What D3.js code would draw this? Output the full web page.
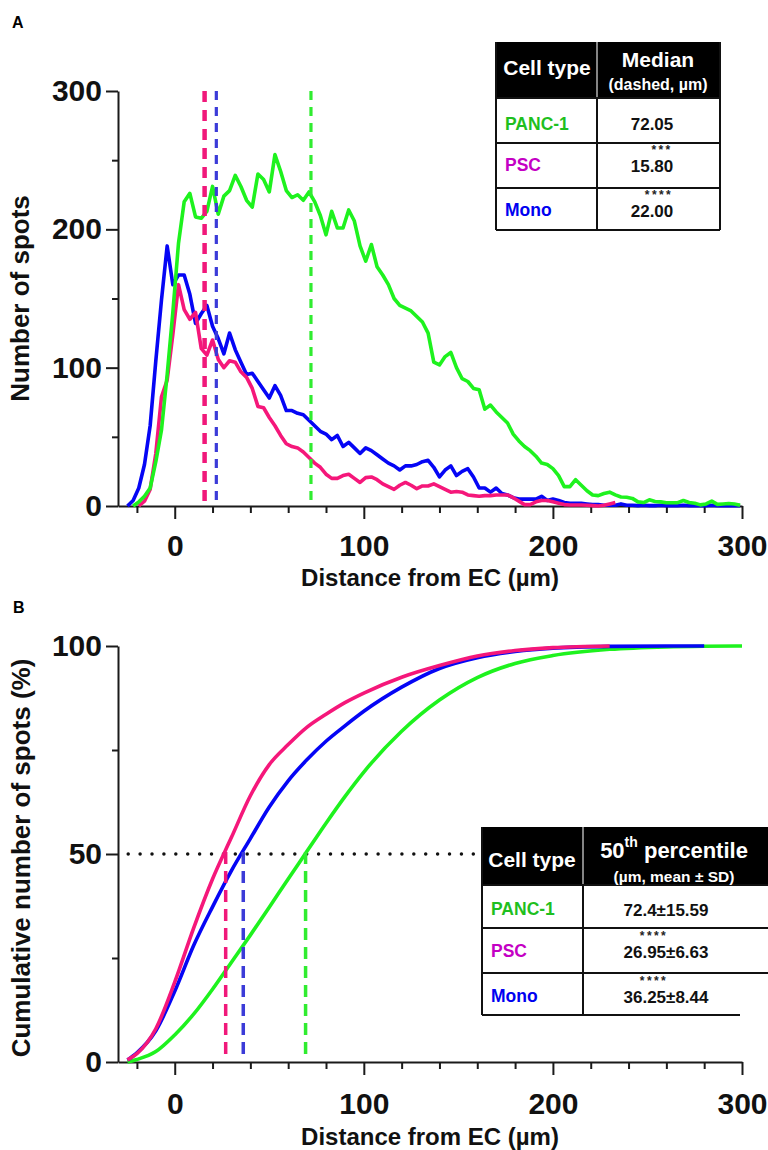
<!DOCTYPE html>
<html>
<head>
<meta charset="utf-8">
<script src="https://cdn.jsdelivr.net/npm/d3@7"></script>
<style>
  body { margin: 0; background: #fff; }
  svg { display: block; }
  text { font-family: "Liberation Sans", Arial, sans-serif; font-weight: bold; }
</style>
</head>
<body>
<svg id="chart" width="768" height="1150"></svg>
<script>
// cell types, in table order
const cellTypes = ['PANC-1', 'PSC', 'Mono'];
const lineColors = ['#1ef21e', '#f5177a', '#0505f5'];
const dashColors = ['#30ec30', '#f0187a', '#3b3bd8'];
const labelColors = ['#1fbf1f', '#c400c4', '#0000f0'];

// panel A: histogram bins (µm) and counts
const bins = [
  -25, -22, -19, -16, -13, -10, -7, -4, -1, 2,
  5, 8, 11, 14, 17, 20, 23, 26, 29, 32,
  35, 38, 41, 44, 47, 50, 53, 56, 59, 62,
  65, 68, 71, 74, 77, 80, 83, 86, 89, 92,
  95, 98, 101, 104, 107, 110, 113, 116, 119, 122,
  125, 128, 131, 134, 137, 140, 143, 146, 149, 152,
  155, 158, 161, 164, 167, 170, 173, 176, 179, 182,
  185, 188, 191, 194, 197, 200, 203, 206, 209, 212,
  215, 218, 221, 224, 227, 230, 233, 236, 239, 242,
  245, 248, 251, 254, 257, 260, 263, 266, 269, 272,
  275, 278, 281, 284, 287, 290, 293, 296, 299
];

const histPanc = [
  null, 0, 3, 7, 13, 32, 55, 95, 140, 190,
  220, 226, 209, 208, 213, 231, 211, 224, 228, 239,
  231, 221, 216, 240, 236, 227, 254, 242, 228, 223,
  225, 221, 227, 220, 210, 196, 213, 201, 201, 214,
  206, 188, 177, 189, 173, 167, 160, 150, 145, 143,
  141, 137, 133, 125, 104, 102, 108, 111, 100, 92,
  90, 85, 84, 70, 73, 68, 64, 60, 52, 47,
  43, 40, 36, 31, 30, 27, 22, 14, 14, 19,
  15, 11, 8, 7.5, 9, 10, 8, 6.5, 6.3, 5.5,
  3, 2.5, 4.5, 3.3, 3, 2.4, 2.4, 2.4, 4, 2.5,
  2, 0.8, 1.5, 3.5, 1.2, 1.5, 1.8, 1.5, 0.5
];

const histPsc = [
  null, null, 0, 3.5, 12, 38, 79, 91, 124, 160,
  142, 135, 140, 114, 109, 120, 106, 100, 105, 104,
  97, 93, 85, 72, 71, 64, 58, 51, 45, 43,
  42, 39, 35, 31, 28, 23, 20, 20, 22, 23,
  20, 17, 20.5, 21, 19, 16, 14, 12, 15, 17,
  15, 12.5, 14.5, 14.5, 16, 14, 12, 10, 10.5, 10,
  8, 7.5, 7, 7.5, 7.5, 8, 8, 8, 6, 3.5,
  1, 1, 3, 4, 4, 3, 2, 1, 0.7, 0.7,
  0.7, 0.5, 0.3, 0, 0.5, 1.5, 2.5, null, null, null,
  null, null, null, null, null, null, null, null, null, null,
  null, null, null, null, null, null, null, null, null
];

const histMono = [
  0, 4, 13, 30, 58, 105, 149, 188, 160, 167,
  167, 153, 132, 139, 145, 130, 121, 110, 125, 113,
  104, 95, 96, 90, 84, 78, 87, 80, 69, 69,
  67, 66, 62, 58, 54, 52, 48, 51, 43, 46,
  42, 38, 42, 40, 37, 34, 31, 29, 26, 29,
  29, 30, 32, 33, 28, 21, 26, 29, 22, 25,
  27, 21, 13, 13, 10, 13, 9, 8, 6, 5,
  5, 5, 5, 7, 4, 5, 4, 2.5, 2, 2,
  2, 1.5, 1, 1, 0.5, 0.5, 0.5, 1.5, 0.5, 0.5,
  0.3, 0.5, 0.3, 0.3, 0.5, 0.3, 0.3, 0.3, 0.5, 0.3,
  0.3, 0.3, 0.3, 0.5, 0.3, 0.3, 0.3, 0.3, 0.3
];

// panel B: cumulative %
const cumX = [-25, -20, -10, 0, 10, 20, 30, 40, 50, 60, 70, 80, 90, 100, 120, 140, 160, 180, 200, 230, 260, 280, 300];
const cumPanc = [0, 0.6, 2.5, 6.5, 11.5, 17.5, 24, 30.5, 37.2, 44, 50.7, 57.4, 63.8, 69.7, 79.5, 87, 92.4, 95.8, 97.7, 99.2, 99.8, 99.95, 100];
const cumPsc = [0.5, 2, 8, 19.2, 32.2, 44, 54, 64, 71.5, 76.3, 80.5, 83.6, 86.4, 88.7, 92.5, 95.3, 97.6, 98.9, 99.6, 100, null, null, null];
const cumMono = [0.5, 2.2, 7.5, 17, 28, 37.3, 46, 53.7, 61.3, 67.6, 72.7, 77.1, 80.8, 84.3, 90.1, 94.6, 97.2, 98.7, 99.5, 99.9, 100, 100, null];

// medians / 50th percentiles
const medianA = [72.05, 15.80, 22.00];
const medianText = ['72.05', '15.80', '22.00'];
const medianStars = ['', '***', '****'];
const p50Line = [69.2, 26.95, 36.25];
const p50Text = ['72.4±15.59', '26.95±6.63', '36.25±8.44'];
const p50Stars = ['', '****', '****'];

// ticks
const xTicks = [0, 100, 200, 300];
const xMinor = [-20, 20, 40, 60, 80, 120, 140, 160, 180, 220, 240, 260, 280];
const yTicksA = [0, 100, 200, 300];
const yMinorA = [50, 150, 250];
const yTicksB = [0, 50, 100];
const yMinorB = [25, 75];

const svg = d3.select('#chart');
const axisColor = '#1a1a1a';

const xA = d3.scaleLinear().domain([-30, 300]).range([118, 742]);
const yA = d3.scaleLinear().domain([0, 300]).range([506, 91]);
const xB = d3.scaleLinear().domain([-30, 300]).range([118, 742]);
const yB = d3.scaleLinear().domain([0, 100]).range([1062, 646]);

const styleAxis = (g, fs) => {
  g.select('.domain').attr('stroke', axisColor).attr('stroke-width', 2);
  g.selectAll('.tick line').attr('stroke', axisColor).attr('stroke-width', 2);
  g.selectAll('.tick text').attr('font-size', fs + 'px').attr('fill', '#111')
    .style('font-family', '"Liberation Sans", Arial, sans-serif').style('font-weight', 'bold');
};

const drawAxes = (x, y, yTicks, yMinor, x0y, labelPad) => {
  const gy = svg.append('g').attr('transform', `translate(${x.range()[0]},0)`)
    .call(d3.axisLeft(y).tickValues(yTicks).tickSize(12).tickPadding(4).tickSizeOuter(0));
  styleAxis(gy, 30);
  const gym = svg.append('g').attr('transform', `translate(${x.range()[0]},0)`)
    .call(d3.axisLeft(y).tickValues(yMinor).tickSize(6).tickFormat('').tickSizeOuter(0));
  gym.select('.domain').remove();
  styleAxis(gym, 10);

  const gx = svg.append('g').attr('transform', `translate(0,${x0y})`)
    .call(d3.axisBottom(x).tickValues(xTicks).tickSize(13).tickPadding(labelPad).tickSizeOuter(0));
  styleAxis(gx, 30);
  const gxm = svg.append('g').attr('transform', `translate(0,${x0y})`)
    .call(d3.axisBottom(x).tickValues(xMinor).tickSize(7).tickFormat('').tickSizeOuter(0));
  gxm.select('.domain').remove();
  styleAxis(gxm, 10);
};

// ---------- panel A ----------
svg.append('text').attr('x', 12).attr('y', 28).attr('font-size', '16px').text('A');

drawAxes(xA, yA, yTicksA, yMinorA, 506, 16);

const histLine = d3.line()
  .defined(d => d[1] !== null)
  .x(d => xA(d[0]))
  .y(d => yA(d[1]));

const histSeries = [histPanc, histPsc, histMono];
// draw order: Mono, PSC, PANC-1 on top
[2, 1, 0].forEach(k => {
  svg.append('path')
    .datum(bins.map((b, i) => [b, histSeries[k][i]]))
    .attr('fill', 'none')
    .attr('stroke', lineColors[k])
    .attr('stroke-width', 3.6)
    .attr('stroke-linejoin', 'round')
    .attr('d', histLine);
});

svg.append('g').selectAll('line')
  .data(medianA)
  .join('line')
  .attr('x1', d => xA(d)).attr('x2', d => xA(d))
  .attr('y1', yA(300)).attr('y2', yA(0))
  .attr('stroke', (d, i) => dashColors[i])
  .attr('stroke-width', (d, i) => i === 1 ? 4.5 : 3.2)
  .attr('stroke-dasharray', (d, i) => i === 1 ? '11,8' : '9,7');

svg.append('text').attr('transform', `translate(29,${(yA(0) + yA(300)) / 2}) rotate(-90)`)
  .attr('text-anchor', 'middle').attr('font-size', '26px').attr('fill', '#111').text('Number of spots');
svg.append('text').attr('x', 430).attr('y', 586)
  .attr('text-anchor', 'middle').attr('font-size', '24px').attr('fill', '#111').text('Distance from EC (µm)');

// ---------- panel B ----------
svg.append('text').attr('x', 13).attr('y', 613).attr('font-size', '16px').text('B');

drawAxes(xB, yB, yTicksB, yMinorB, 1062, 18);

// 50% dotted guide
svg.append('line')
  .attr('x1', xB(-24.6)).attr('x2', xB(158))
  .attr('y1', yB(50)).attr('y2', yB(50))
  .attr('stroke', '#111').attr('stroke-width', 3.5)
  .attr('stroke-linecap', 'round').attr('stroke-dasharray', '0,11.9');

const cumLine = d3.line()
  .defined(d => d[1] !== null)
  .curve(d3.curveMonotoneX)
  .x(d => xB(d[0]))
  .y(d => yB(d[1]));

const cumSeries = [cumPanc, cumPsc, cumMono];
[0, 2, 1].forEach(k => {
  svg.append('path')
    .datum(cumX.map((v, i) => [v, cumSeries[k][i]]))
    .attr('fill', 'none')
    .attr('stroke', lineColors[k])
    .attr('stroke-width', 3.6)
    .attr('d', cumLine);
});

svg.append('g').selectAll('line')
  .data(p50Line)
  .join('line')
  .attr('x1', d => xB(d)).attr('x2', d => xB(d))
  .attr('y1', yB(50.5)).attr('y2', yB(1.5))
  .attr('stroke', (d, i) => dashColors[i])
  .attr('stroke-width', 3.5)
  .attr('stroke-dasharray', '12,7');

svg.append('text').attr('transform', `translate(30,${(yB(0) + yB(100)) / 2 + 4}) rotate(-90)`)
  .attr('text-anchor', 'middle').attr('font-size', '26px').attr('fill', '#111').text('Cumulative number of spots (%)');
svg.append('text').attr('x', 430).attr('y', 1145)
  .attr('text-anchor', 'middle').attr('font-size', '24px').attr('fill', '#111').text('Distance from EC (µm)');

// ---------- tables ----------
function drawTable(t) {
  const g = svg.append('g');
  g.append('rect').attr('x', t.x0).attr('y', t.y0).attr('width', t.x1 - t.x0).attr('height', t.rows[2] - t.y0).attr('fill', '#fff');
  g.append('rect').attr('x', t.x0).attr('y', t.y0).attr('width', t.x1 - t.x0).attr('height', t.hdr - t.y0).attr('fill', '#000');
  g.append('line').attr('x1', t.col).attr('x2', t.col).attr('y1', t.y0).attr('y2', t.hdr).attr('stroke', '#ddd').attr('stroke-width', 1.2);
  const lines = [
    [t.x0, t.y0, t.x0, t.rows[2]],
    [t.col, t.hdr, t.col, t.rows[2]],
    [t.x0, t.hdr, t.x1, t.hdr],
    [t.x0, t.rows[0], t.x1, t.rows[0]],
    [t.x0, t.rows[1], t.x1, t.rows[1]],
    [t.x0, t.rows[2], t.bottomEnd, t.rows[2]]
  ];
  if (t.rightBorder) lines.push([t.x1, t.y0, t.x1, t.rows[2]]);
  g.selectAll('line.b').data(lines).join('line').attr('class', 'b')
    .attr('x1', d => d[0]).attr('y1', d => d[1]).attr('x2', d => d[2]).attr('y2', d => d[3])
    .attr('stroke', '#111').attr('stroke-width', 2);

  g.append('text').attr('x', t.cellTypeX).attr('y', t.cellTypeY).attr('text-anchor', 'middle')
    .attr('font-size', '21px').attr('fill', '#fff').text('Cell type');

  g.selectAll('text.lab').data(cellTypes).join('text').attr('class', 'lab')
    .attr('x', t.labX).attr('y', (d, i) => t.labY[i]).attr('font-size', '17.5px')
    .attr('fill', (d, i) => labelColors[i]).text(d => d);

  g.selectAll('text.val').data(t.values).join('text').attr('class', 'val')
    .attr('x', t.valX).attr('y', (d, i) => t.valY[i])
    .attr('text-anchor', 'middle').attr('font-size', '17px').attr('fill', '#111')
    .text(d => d);
  // significance stars sit just above the value
  g.selectAll('text.star').data(t.stars).join('text').attr('class', 'star')
    .attr('x', (d, i) => t.starX[i]).attr('y', (d, i) => t.valY[i] - 18)
    .attr('text-anchor', 'middle').attr('font-size', '12px').attr('letter-spacing', '2.4px')
    .attr('fill', '#222').text(d => d);
  return g;
}

const tA = drawTable({
  x0: 496, x1: 720, y0: 42, hdr: 98, col: 597, rows: [143, 188, 230], bottomEnd: 720, rightBorder: true,
  cellTypeX: 547, cellTypeY: 75, labX: 505, labY: [130, 171, 216], valX: 652, valY: [130, 172, 217],
  values: medianText, stars: medianStars, starX: [662, 662, 659]
});
tA.append('text').attr('x', 658).attr('y', 67).attr('text-anchor', 'middle')
  .attr('font-size', '21px').attr('fill', '#fff').text('Median');
tA.append('text').attr('x', 658).attr('y', 90).attr('text-anchor', 'middle')
  .attr('font-size', '16px').attr('fill', '#fff').text('(dashed, µm)');

const tB = drawTable({
  x0: 482, x1: 772, y0: 827, hdr: 885, col: 583, rows: [928, 973, 1015], bottomEnd: 740, rightBorder: false,
  cellTypeX: 532, cellTypeY: 867, labX: 491, labY: [915, 957, 1002], valX: 666, valY: [916, 958, 1003],
  values: p50Text, stars: p50Stars, starX: [654, 654, 654]
});
const h50 = tB.append('text').attr('x', 674).attr('y', 858).attr('text-anchor', 'middle')
  .attr('font-size', '22px').attr('fill', '#fff');
h50.append('tspan').text('50');
h50.append('tspan').attr('font-size', '14px').attr('dy', -11).text('th');
h50.append('tspan').attr('dy', 11).text(' percentile');
tB.append('text').attr('x', 674).attr('y', 882).attr('text-anchor', 'middle')
  .attr('font-size', '15.5px').attr('fill', '#fff').text('(µm, mean ± SD)');
</script>
</body>
</html>
